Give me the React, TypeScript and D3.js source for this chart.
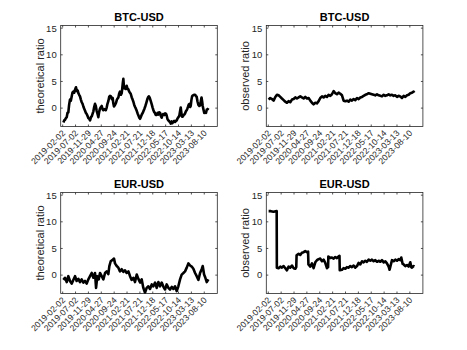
import * as d3 from "d3";

// days since 2019-02-02, value
const btcTheoretical: [number, number][] = [
  [8, -2.7], [18, -2.3], [27, -2.2], [37, -1.9], [47, -1.7], [56, -0.9], [66, -0.8], [75, 0.6], [85, 1.6], [95, 1.4],
  [105, 2.2], [114, 2.9], [124, 3.1], [135, 2.9], [145, 3.5], [155, 3.9], [165, 3.2], [175, 3.3], [183, 2.8], [192, 2.5],
  [202, 2.2], [212, 1.6], [222, 1.1], [232, 0.8], [241, 0.3], [251, -0.1], [261, -0.5], [270, -0.9], [280, -1.1], [290, -1.5],
  [300, -1.9], [310, -2.0], [319, -2.3], [330, -1.7], [340, -1.5], [350, -1.0], [358, -0.6], [367, 0.2], [377, 0.8], [386, 0.4],
  [396, -0.5], [405, -1.0], [416, -1.7], [425, -0.7], [435, -0.1], [445, 0.2], [455, 0.4], [465, -0.2], [474, -0.4], [482, -0.3],
  [492, -0.2], [502, -0.4], [513, 0.1], [522, 0.8], [532, 1.3], [542, 2.1], [552, 2.3], [562, 2.2], [573, 1.7], [583, 1.9],
  [590, 0.9], [598, 0.3], [610, 0.6], [622, 1.0], [632, 1.6], [640, 1.8], [649, 2.0], [658, 2.7], [668, 3.1], [678, 2.5],
  [688, 2.8], [695, 3.8], [700, 4.6], [707, 5.5], [714, 4.0], [720, 3.7], [727, 4.0], [737, 3.6], [746, 4.2], [756, 3.6],
  [766, 3.5], [775, 3.1], [784, 2.9], [793, 2.7], [805, 2.0], [815, 1.6], [824, 1.2], [834, 0.6], [844, 0.2], [853, -0.1],
  [863, -0.5], [873, -1.0], [883, -1.4], [893, -1.8], [902, -2.0], [912, -1.6], [922, -1.2], [933, -0.9], [943, -0.5], [953, -0.1],
  [964, 0.4], [975, 1.0], [987, 1.7], [997, 2.1], [1005, 2.2], [1015, 1.9], [1025, 1.4], [1038, 0.7], [1048, 0.1], [1058, -0.4],
  [1065, -0.7], [1075, -0.9], [1085, -1.3], [1096, -1.3], [1106, -0.9], [1118, -1.2], [1125, -0.8], [1135, -0.9], [1145, -1.5], [1154, -1.8],
  [1164, -1.2], [1174, -1.1], [1184, -1.3], [1194, -1.0], [1205, -1.1], [1212, -1.4], [1222, -2.1], [1232, -2.3], [1242, -2.5], [1251, -2.6],
  [1260, -2.9], [1270, -2.5], [1280, -2.8], [1290, -2.6], [1300, -2.4], [1310, -2.6], [1320, -2.4], [1329, -2.3], [1340, -1.9], [1350, -1.7],
  [1360, -1.4], [1368, -0.6], [1376, 0.1], [1382, -0.7], [1390, -1.6], [1399, -1.6], [1410, -1.3], [1418, -1.2], [1426, -1.0], [1436, -0.6],
  [1445, -0.4], [1453, -0.1], [1462, 0.3], [1470, 0.7], [1477, 0.8], [1485, 0.2], [1492, 0.4], [1500, 1.5], [1508, 2.2], [1518, 2.4],
  [1530, 2.5], [1543, 2.5], [1552, 2.3], [1562, 2.1], [1572, 1.2], [1582, 0.6], [1592, 0.4], [1601, 0.5], [1610, 1.3], [1618, 2.0],
  [1625, 1.3], [1632, 0.4], [1640, -0.2], [1650, -0.9], [1659, -0.8], [1670, -0.9], [1679, -0.3], [1690, -0.2], [1698, 0.0],
];

const btcObserved: [number, number][] = [
  [4, 1.6], [23, 1.9], [43, 1.7], [62, 1.4], [82, 2.1], [101, 2.5], [120, 2.4], [140, 2.1], [159, 1.8], [179, 1.5],
  [198, 1.2], [218, 1.0], [237, 1.3], [256, 1.1], [276, 1.6], [295, 1.7], [315, 2.0], [334, 1.8], [354, 2.0], [373, 2.2],
  [392, 2.0], [412, 1.8], [431, 2.1], [451, 1.8], [470, 1.9], [490, 1.4], [509, 1.0], [528, 0.7], [548, 1.0], [567, 0.9],
  [587, 1.3], [606, 1.9], [626, 2.2], [645, 2.0], [664, 2.3], [684, 2.1], [703, 2.5], [723, 2.3], [742, 2.6], [762, 3.2],
  [781, 2.8], [800, 2.6], [820, 2.9], [839, 2.7], [859, 2.4], [878, 1.4], [898, 1.3], [917, 1.4], [937, 1.2], [956, 1.6],
  [975, 1.4], [995, 1.7], [1014, 1.5], [1034, 1.9], [1053, 1.7], [1073, 2.0], [1092, 2.1], [1111, 2.3], [1131, 2.5], [1150, 2.6],
  [1170, 2.8], [1189, 2.7], [1208, 2.6], [1228, 2.5], [1247, 2.4], [1267, 2.6], [1286, 2.4], [1306, 2.3], [1325, 2.2], [1345, 2.5],
  [1364, 2.3], [1383, 2.4], [1403, 2.6], [1422, 2.4], [1442, 2.5], [1461, 2.3], [1481, 2.4], [1500, 2.1], [1519, 2.3], [1539, 2.2],
  [1558, 1.9], [1578, 2.3], [1597, 2.1], [1617, 2.4], [1636, 2.5], [1655, 2.8], [1675, 2.9], [1694, 3.1], [1702, 2.9],
];

const eurTheoretical: [number, number][] = [
  [8, -0.9], [27, -0.5], [47, -1.3], [66, -0.2], [85, -1.1], [105, -1.6], [124, -0.9], [144, -0.2], [163, -1.1], [183, -0.7],
  [202, -1.3], [221, -0.8], [241, -1.4], [260, -1.1], [280, -1.6], [299, -0.8], [319, -0.2], [338, 0.4], [358, -0.5], [377, 0.4],
  [389, -2.4], [404, -0.2], [420, -0.8], [435, 0.4], [455, -0.2], [474, -0.8], [494, 0.4], [513, 0.7], [532, 0.2], [544, 1.7],
  [560, 2.6], [583, 2.9], [598, 3.1], [610, 2.2], [630, 1.7], [649, 1.4], [668, 0.7], [688, 1.1], [707, 0.6], [727, 0.9],
  [746, 0.4], [766, 0.7], [785, -0.2], [804, -0.9], [824, -0.5], [843, -1.3], [863, 0.1], [882, -0.7], [902, -1.4], [921, -0.8],
  [940, -2.4], [960, -3.3], [979, -2.4], [999, -2.1], [1018, -2.6], [1038, -1.75], [1057, -2.1], [1077, -1.4], [1096, -2.4], [1115, -1.3],
  [1135, -2.1], [1154, -1.4], [1174, -2.2], [1193, -2.7], [1212, -1.75], [1232, -2.4], [1251, -2.7], [1271, -2.2], [1290, -2.6], [1310, -2.1],
  [1329, -3.0], [1348, -2.1], [1368, -0.8], [1387, 0.1], [1407, 0.4], [1426, 0.7], [1446, 1.4], [1465, 2.2], [1485, 1.8], [1504, 1.6],
  [1523, 1.2], [1543, 0.4], [1562, -0.2], [1582, -0.9], [1601, 0.4], [1620, 1.1], [1632, 1.7], [1648, 0.1], [1663, -0.5], [1679, -1.3],
  [1698, -0.8],
];

const eurObserved: [number, number][] = [
  [4, 12.0], [30, 12.0], [60, 11.9], [98, 12.0], [100, 1.4], [120, 1.3], [140, 1.6], [159, 1.4], [179, 1.7], [198, 1.3],
  [218, 0.9], [237, 1.6], [256, 1.4], [276, 1.8], [295, 1.3], [315, 1.2], [326, 1.5], [330, 3.7], [354, 4.0], [373, 3.8],
  [392, 4.2], [412, 4.3], [431, 4.5], [451, 4.3], [464, 4.4], [468, 2.0], [490, 1.6], [509, 2.2], [528, 1.3], [548, 2.4],
  [567, 2.8], [587, 3.0], [606, 3.1], [626, 2.6], [645, 2.9], [664, 2.3], [684, 1.3], [697, 1.5], [700, 3.5], [723, 3.2],
  [742, 3.3], [762, 3.1], [781, 3.4], [800, 3.2], [820, 3.5], [830, 3.6], [833, 0.9], [859, 1.0], [878, 1.3], [898, 1.2],
  [917, 1.5], [937, 1.4], [956, 1.7], [975, 1.5], [995, 1.8], [1014, 1.4], [1034, 1.7], [1053, 2.3], [1073, 2.0], [1092, 2.6],
  [1111, 2.4], [1131, 2.7], [1150, 2.5], [1170, 2.9], [1189, 2.7], [1208, 2.9], [1228, 2.6], [1247, 2.8], [1267, 2.5], [1286, 2.7],
  [1306, 2.5], [1325, 2.8], [1345, 2.4], [1364, 2.6], [1383, 2.2], [1403, 1.6], [1414, 1.0], [1426, 1.8], [1442, 2.8], [1461, 2.6],
  [1481, 2.9], [1500, 2.7], [1519, 3.0], [1539, 2.8], [1550, 3.3], [1566, 2.1], [1578, 2.0], [1597, 1.7], [1617, 1.9], [1636, 1.6],
  [1655, 2.4], [1667, 1.5], [1675, 1.4], [1694, 1.7], [1702, 1.6],
];

const tickLabels = [
  "2019-02-02", "2019-07-02", "2019-11-29", "2020-04-27", "2020-09-24", "2021-02-21",
  "2021-07-21", "2021-12-18", "2022-05-17", "2022-10-14", "2023-03-13", "2023-08-10",
];
const yTicks = [0, 5, 10, 15];

const start = new Date(2019, 1, 2);
const parse = d3.timeParse("%Y-%m-%d");
const toDate = (d: number) => d3.timeDay.offset(start, d);

const INK = "#262626";
const FONT = "'Liberation Sans', Arial, Helvetica, sans-serif";

const W = 156.6;
const H = 101;

function Panel({ x0, y0, title, ylabel, data }: { x0: number; y0: number; title: string; ylabel: string; data: [number, number][] }) {
  const x = d3.scaleTime().domain([toDate(-23), toDate(1802)]).range([0, W]);
  const y = d3.scaleLinear().domain([-3.45, 15.5]).range([H, 0]);
  const line = d3.line<[number, number]>().x((d) => x(toDate(d[0]))).y((d) => y(d[1]));
  const tl = 2;
  return (
    <g transform={`translate(${x0},${y0})`} fontFamily={FONT}>
      <path d={line(data) || ""} fill="none" stroke="#000" strokeWidth={2.6} strokeLinejoin="round" />
      <rect x={0} y={0} width={W} height={H} fill="none" stroke={INK} strokeWidth={0.8} />
      {tickLabels.map((t) => {
        const px = x(parse(t) as Date);
        return (
          <g key={t}>
            <line x1={px} x2={px} y1={H} y2={H - tl} stroke={INK} strokeWidth={0.8} />
            <line x1={px} x2={px} y1={0} y2={tl} stroke={INK} strokeWidth={0.8} />
            <text transform={`translate(${px + 1},${H + 5}) rotate(-45)`} textAnchor="end" dy="0.35em" fontSize={8.6} fill={INK}>
              {t}
            </text>
          </g>
        );
      })}
      {yTicks.map((v) => (
        <g key={v}>
          <line x1={0} x2={tl} y1={y(v)} y2={y(v)} stroke={INK} strokeWidth={0.8} />
          <line x1={W} x2={W - tl} y1={y(v)} y2={y(v)} stroke={INK} strokeWidth={0.8} />
          <text x={-4} y={y(v)} dy="0.35em" textAnchor="end" fontSize={9.5} fill={INK}>
            {v}
          </text>
        </g>
      ))}
      <text x={W / 2} y={-4.5} textAnchor="middle" fontSize={11} fontWeight="bold" fill="#000">
        {title}
      </text>
      <text transform={`translate(-17,${H / 2}) rotate(-90)`} textAnchor="middle" fontSize={11} fill={INK}>
        {ylabel}
      </text>
    </g>
  );
}

export default function App() {
  return (
    <svg width={467} height={350} style={{ position: "absolute", left: 0, top: 0, background: "#fff" }}>
      <rect width={467} height={350} fill="#fff" />
      <Panel x0={60.7} y0={25.5} title="BTC-USD" ylabel="theoretical ratio" data={btcTheoretical} />
      <Panel x0={266.3} y0={25.5} title="BTC-USD" ylabel="observed ratio" data={btcObserved} />
      <Panel x0={60.7} y0={192.5} title="EUR-USD" ylabel="theoretical ratio" data={eurTheoretical} />
      <Panel x0={266.3} y0={192.5} title="EUR-USD" ylabel="observed ratio" data={eurObserved} />
    </svg>
  );
}
